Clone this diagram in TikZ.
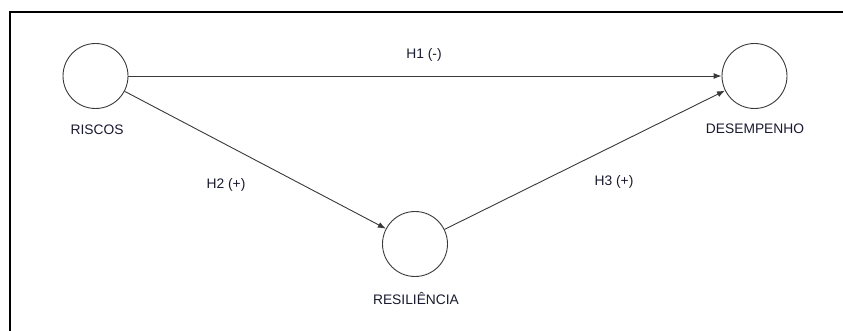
\documentclass[tikz,border=0pt]{standalone}
\usepackage{fontspec}
\setmainfont{Liberation Sans}
\usetikzlibrary{arrows.meta}
\definecolor{linegray}{HTML}{3A3A3A}
\definecolor{txt}{HTML}{1A1A30}
\begin{document}
\begin{tikzpicture}[x=1pt,y=-1pt,
  construct/.style={circle,draw=linegray,line width=0.9pt,minimum size=65pt,inner sep=0pt},
  lbl/.style={font=\fontsize{13.8}{15}\selectfont,text=txt,inner sep=0pt},
  path/.style={draw=linegray,line width=0.9pt,-{Latex[length=8pt,width=6pt]}}
]
\useasboundingbox (0,0) rectangle (843,331);
\fill[white] (0,0) rectangle (843,331);
\coordinate (fc) at (10,12);
\coordinate (fr) at (843,12);
\coordinate (fb) at (10,331);
\draw[line width=1.2pt] (fr) -- (fc) -- (fb);
\node[construct] (r) at (95.5,76) {};
\node[construct] (d) at (754.5,76) {};
\node[construct] (s) at (415,244) {};
\node[lbl] (rl) at (97,130) {RISCOS};
\node[lbl] (dl) at (755,129) {DESEMPENHO};
\node[lbl] (sl) at (416,299) {RESILIÊNCIA};
\draw[path] (r) -- (d);
\draw[path] (r) -- (s);
\draw[path] (s) -- (d);
\node[lbl] (h1) at (424,55) {H1 (-)};
\node[lbl] (h2) at (226,185) {H2 (+)};
\node[lbl] (h3) at (614,182) {H3 (+)};
\end{tikzpicture}
\end{document}
